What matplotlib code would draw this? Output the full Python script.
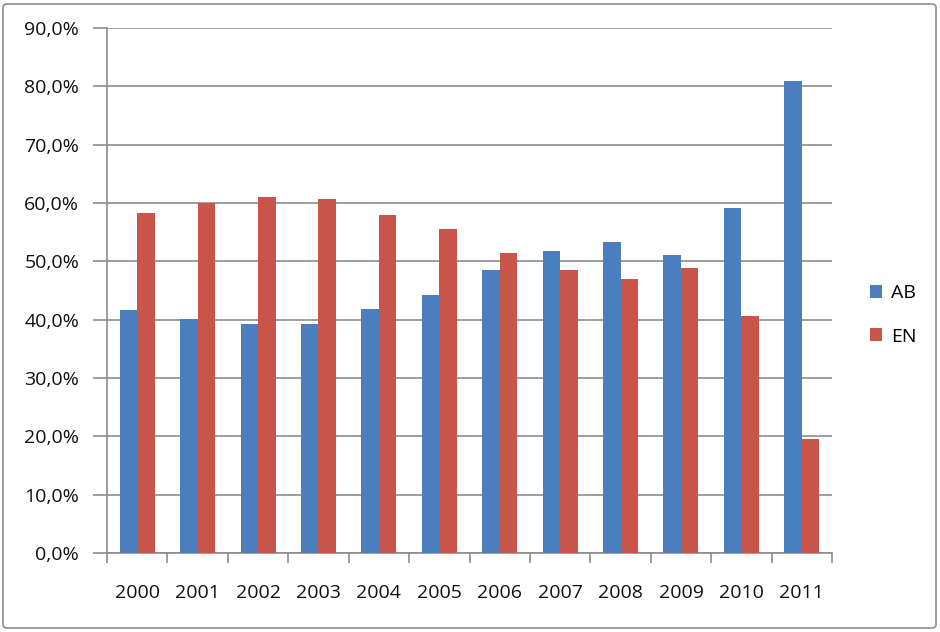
import matplotlib
matplotlib.use("Agg")
import matplotlib.pyplot as plt
import numpy as np
from matplotlib.patches import FancyBboxPatch

years = ["2000", "2001", "2002", "2003", "2004", "2005", "2006", "2007", "2008", "2009", "2010", "2011"]
ab = [41.7, 40.1, 39.3, 39.3, 41.9, 44.3, 48.5, 51.8, 53.3, 51.1, 59.1, 80.9]
en = [58.2, 60.0, 61.0, 60.6, 58.0, 55.5, 51.5, 48.5, 47.0, 48.8, 40.7, 19.5]
series_names = ["AB", "EN"]
yticks = [0, 10, 20, 30, 40, 50, 60, 70, 80, 90]

plt.rcParams['font.family'] = ['Open Sans', 'DejaVu Sans']
FS = 14

fig = plt.figure(figsize=(9.40, 6.32), dpi=100)
ax = fig.add_axes([107/940, 1-553/632, (832-107)/940, (553-28)/632])

x = np.arange(len(years))
w = 0.29
blue = "#4a7ebf"
red = "#c9544a"
ax.bar(x - w/2, ab, width=w, color=blue, label=series_names[0], zorder=3)
ax.bar(x + w/2, en, width=w, color=red, label=series_names[1], zorder=3)

ax.set_xlim(-0.5, len(years) - 0.5)
ax.set_ylim(0, 90)
ax.set_yticks(yticks)
ax.set_yticklabels([f"{v:.1f}%".replace(".", ",") for v in yticks])
ax.yaxis.grid(True, color="#8c8c8c", linewidth=1.2, zorder=0)
ax.set_axisbelow(True)

ax.set_xticks(x)
ax.set_xticklabels(years)
ax.set_xticks(np.arange(-0.5, len(years)), minor=True)
ax.tick_params(axis='x', which='major', length=0, pad=22, labelsize=FS, colors="#111111")
ax.tick_params(axis='x', which='minor', length=7, color="#8c8c8c", width=1.2)
ax.tick_params(axis='y', length=10, width=1.2, labelsize=FS, pad=10, color="#8c8c8c", labelcolor="#111111")

for s in ["top", "right"]:
    ax.spines[s].set_visible(False)
for s in ["left", "bottom"]:
    ax.spines[s].set_color("#8c8c8c")
    ax.spines[s].set_linewidth(1.2)

leg = fig.legend(loc="center left", bbox_to_anchor=(852/940, 1-315/632), frameon=False,
                 fontsize=FS, handlelength=0.65, handleheight=0.65, labelspacing=1.3,
                 handletextpad=0.45)

border = FancyBboxPatch((3/940, 4/632), 933/940, 624/632, boxstyle="round,pad=0,rounding_size=0.005",
                        transform=fig.transFigure, fill=False, edgecolor="#8c8c8c", linewidth=1.2)
fig.patches.append(border)

fig.savefig("out.png", dpi=100)
